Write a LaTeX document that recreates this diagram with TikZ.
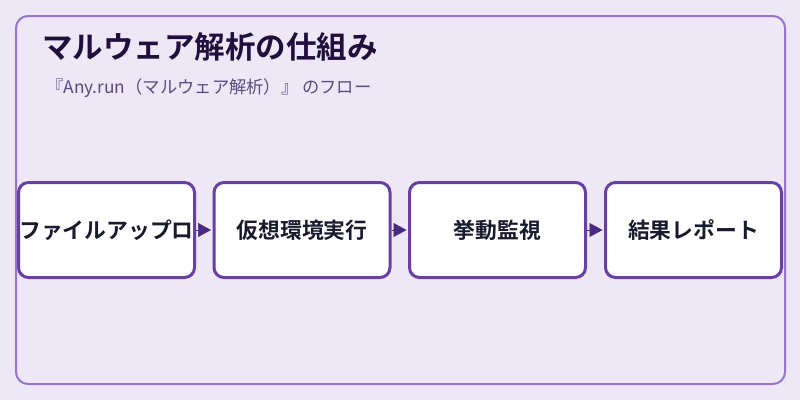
\documentclass[tikz,border=0pt]{standalone}
\usepackage{fontspec}
\setmainfont{Noto Sans CJK JP}
\newfontfamily\jpbold{Noto Sans CJK JP Bold}
\usetikzlibrary{arrows.meta}
\definecolor{bgc}{HTML}{EDE7F6}
\definecolor{framec}{HTML}{9575CD}
\definecolor{boxc}{HTML}{6A3FA3}
\definecolor{arrowc}{HTML}{4A2A80}
\definecolor{titlec}{HTML}{1E0F3C}
\definecolor{subc}{HTML}{5A4A85}
\definecolor{textc}{HTML}{1A1A2E}
\tikzset{
  stepbox/.style={draw=boxc, line width=3pt, fill=white, rounded corners=10pt,
    minimum width=176pt, minimum height=95pt, inner sep=0pt,
    font=\jpbold\fontsize{21.8}{25}\selectfont, text=textc},
  flowarrow/.style={draw=arrowc, line width=0.6pt, -{Triangle[length=13pt,width=14pt]}, shorten >=1.5pt}
}
\begin{document}
\begin{tikzpicture}[x=1pt,y=-1pt]
\useasboundingbox (0,0) rectangle (800,400);
\fill[bgc] (0,0) rectangle (800,400);
\draw[framec, line width=2pt, rounded corners=12pt] (16,16) rectangle (785,384);
\node[anchor=west, inner sep=0pt, text=titlec, font=\jpbold\fontsize{30.5}{36}\selectfont] (title) at (42,47) {マルウェア解析の仕組み};
\node[anchor=west, inner sep=0pt, text=subc, font=\fontsize{17.3}{20}\selectfont] (sub) at (46,88) {『Any.run（マルウェア解析）』 のフロー};
\node[stepbox] (b1) at (106.5,230) {ファイルアップロ};
\node[stepbox] (b2) at (302,230) {仮想環境実行};
\node[stepbox] (b3) at (497.5,230) {挙動監視};
\node[stepbox] (b4) at (693.5,230) {結果レポート};
\draw[flowarrow] (b1.east) -- (b2.west);
\draw[flowarrow] (b2.east) -- (b3.west);
\draw[flowarrow] (b3.east) -- (b4.west);
\end{tikzpicture}
\end{document}
